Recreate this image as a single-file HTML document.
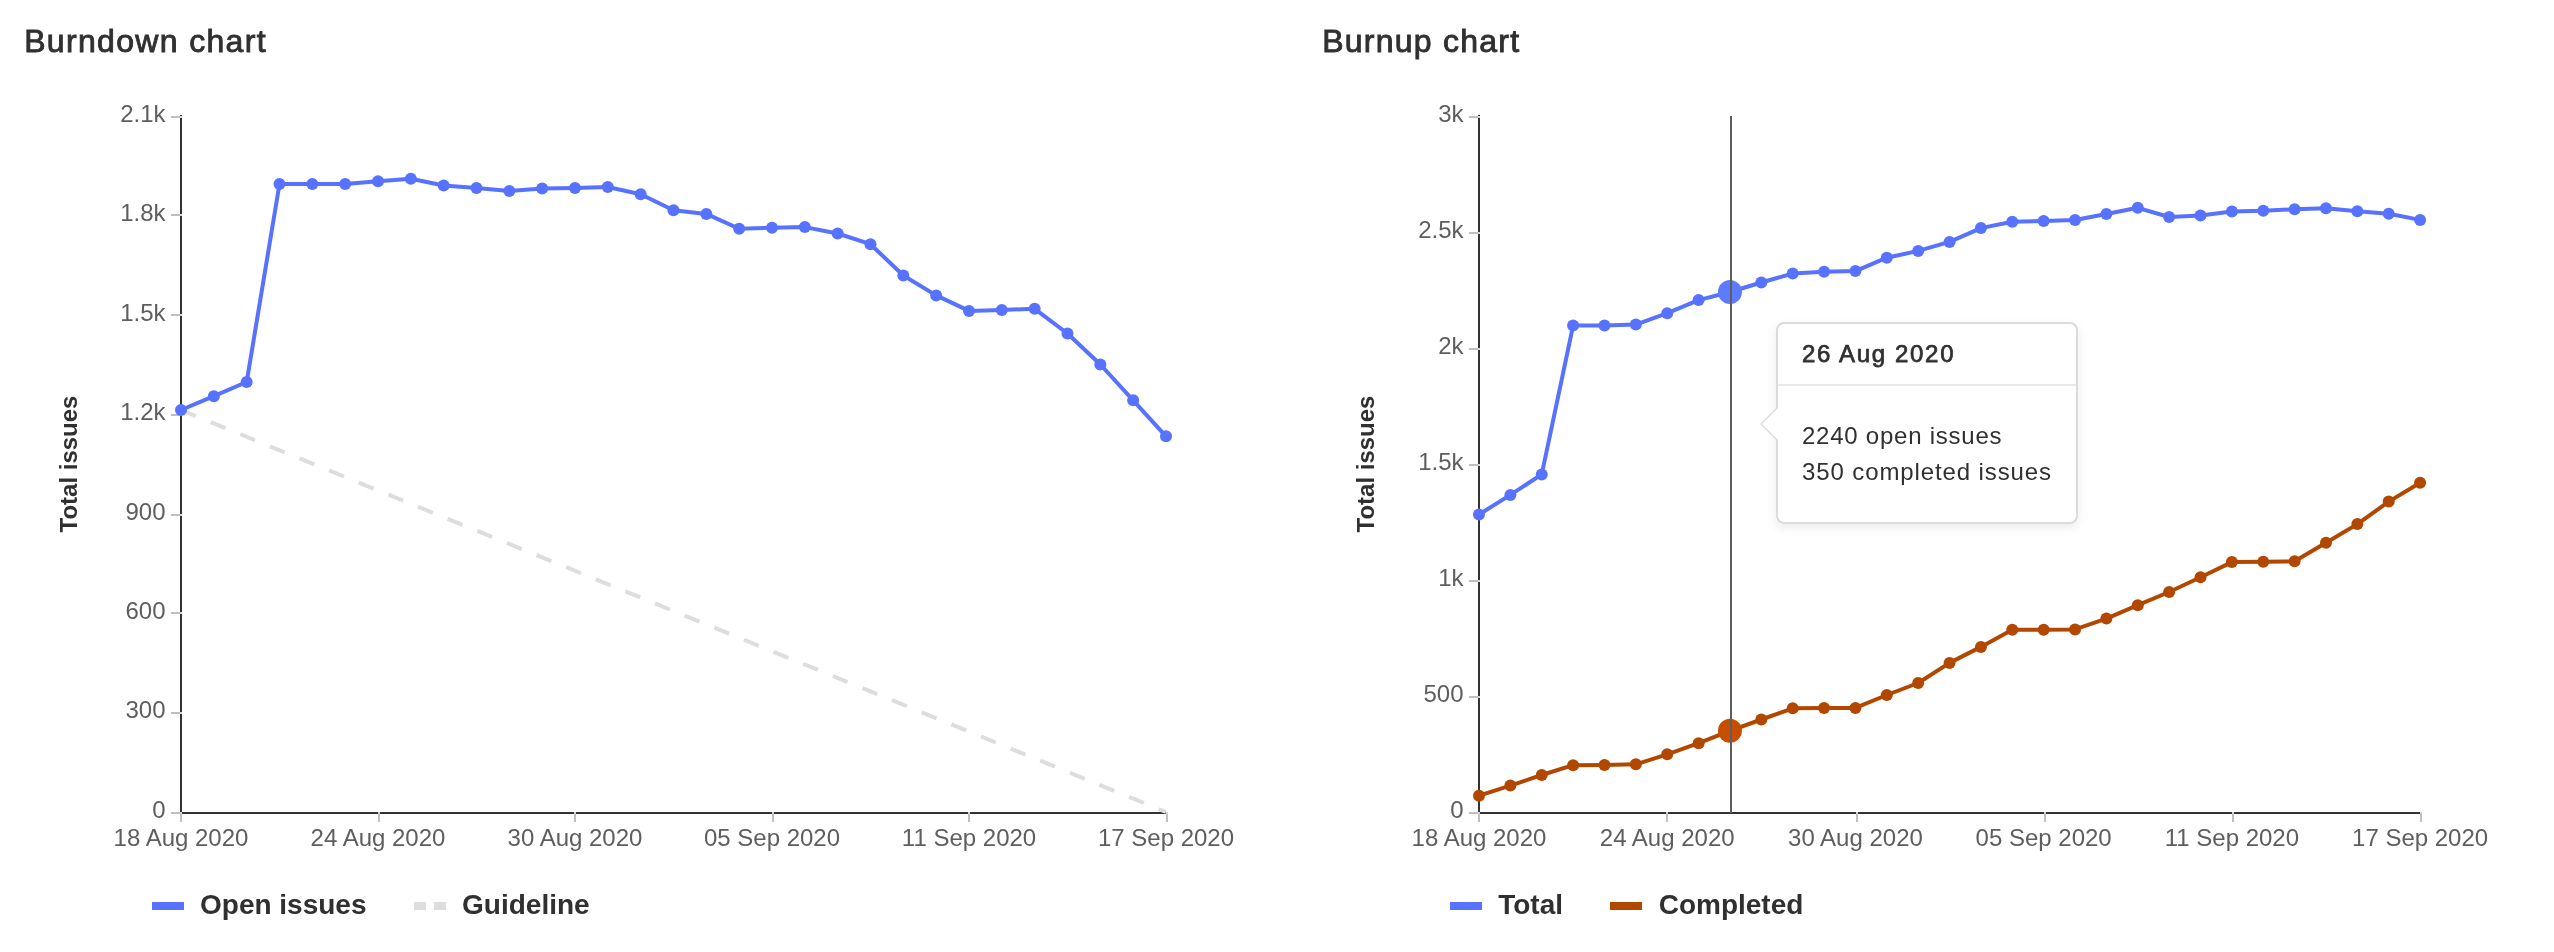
<!DOCTYPE html>
<html><head><meta charset="utf-8"><title>Burndown and Burnup charts</title>
<style>
html,body{margin:0;padding:0;background:#fff;}
body{width:2554px;height:952px;overflow:hidden;}
svg{display:block;}
text{font-family:'Liberation Sans', Arial, Helvetica, sans-serif;}
svg{will-change:transform;}
</style></head><body>

<svg width="2554" height="952" viewBox="0 0 2554 952" preserveAspectRatio="xMinYMin meet">
<defs><filter id="sh" x="-10%" y="-10%" width="130%" height="130%"><feDropShadow dx="0" dy="4" stdDeviation="5" flood-color="#000" flood-opacity="0.08"/></filter></defs>
<rect width="2554" height="952" fill="#fff"/>
<text x="24.2" y="52.05" font-size="32" font-weight="400" fill="#303030" stroke="#303030" stroke-width="0.9" textLength="241.4" lengthAdjust="spacing">Burndown chart</text>
<text transform="translate(76.5,464) rotate(-90)" text-anchor="middle" font-size="24" font-weight="700" fill="#303030">Total issues</text>
<rect x="180" y="115" width="2" height="699" fill="#333333"/>
<rect x="180" y="812" width="986" height="2" fill="#333333"/>
<rect x="171" y="116" width="9" height="2" fill="#bfbfbf"/>
<rect x="180" y="116" width="2" height="2" fill="#d6d6d6"/>
<text x="165.5" y="121.9" text-anchor="end" font-size="24" fill="#5e5e5e">2.1k</text>
<rect x="171" y="214" width="9" height="2" fill="#bfbfbf"/>
<rect x="180" y="214" width="2" height="2" fill="#d6d6d6"/>
<text x="165.5" y="221.33" text-anchor="end" font-size="24" fill="#5e5e5e">1.8k</text>
<rect x="171" y="314" width="9" height="2" fill="#bfbfbf"/>
<rect x="180" y="314" width="2" height="2" fill="#d6d6d6"/>
<text x="165.5" y="320.76" text-anchor="end" font-size="24" fill="#5e5e5e">1.5k</text>
<rect x="171" y="414" width="9" height="2" fill="#bfbfbf"/>
<rect x="180" y="414" width="2" height="2" fill="#d6d6d6"/>
<text x="165.5" y="420.19" text-anchor="end" font-size="24" fill="#5e5e5e">1.2k</text>
<rect x="171" y="514" width="9" height="2" fill="#bfbfbf"/>
<rect x="180" y="514" width="2" height="2" fill="#d6d6d6"/>
<text x="165.5" y="519.61" text-anchor="end" font-size="24" fill="#5e5e5e">900</text>
<rect x="171" y="612" width="9" height="2" fill="#bfbfbf"/>
<rect x="180" y="612" width="2" height="2" fill="#d6d6d6"/>
<text x="165.5" y="619.04" text-anchor="end" font-size="24" fill="#5e5e5e">600</text>
<rect x="171" y="712" width="9" height="2" fill="#bfbfbf"/>
<rect x="180" y="712" width="2" height="2" fill="#d6d6d6"/>
<text x="165.5" y="718.47" text-anchor="end" font-size="24" fill="#5e5e5e">300</text>
<rect x="171" y="812" width="9" height="2" fill="#bfbfbf"/>
<rect x="180" y="812" width="2" height="2" fill="#d6d6d6"/>
<text x="165.5" y="817.9" text-anchor="end" font-size="24" fill="#5e5e5e">0</text>
<rect x="180" y="814" width="2" height="8" fill="#bfbfbf"/>
<rect x="180" y="812" width="2" height="2" fill="#d6d6d6"/>
<text x="181" y="846" text-anchor="middle" font-size="24" fill="#5e5e5e">18 Aug 2020</text>
<rect x="378" y="814" width="2" height="8" fill="#bfbfbf"/>
<rect x="378" y="812" width="2" height="2" fill="#d6d6d6"/>
<text x="378" y="846" text-anchor="middle" font-size="24" fill="#5e5e5e">24 Aug 2020</text>
<rect x="574" y="814" width="2" height="8" fill="#bfbfbf"/>
<rect x="574" y="812" width="2" height="2" fill="#d6d6d6"/>
<text x="575" y="846" text-anchor="middle" font-size="24" fill="#5e5e5e">30 Aug 2020</text>
<rect x="772" y="814" width="2" height="8" fill="#bfbfbf"/>
<rect x="772" y="812" width="2" height="2" fill="#d6d6d6"/>
<text x="772" y="846" text-anchor="middle" font-size="24" fill="#5e5e5e">05 Sep 2020</text>
<rect x="968" y="814" width="2" height="8" fill="#bfbfbf"/>
<rect x="968" y="812" width="2" height="2" fill="#d6d6d6"/>
<text x="969" y="846" text-anchor="middle" font-size="24" fill="#5e5e5e">11 Sep 2020</text>
<rect x="1166" y="814" width="2" height="8" fill="#bfbfbf"/>
<rect x="1166" y="812" width="2" height="2" fill="#d6d6d6"/>
<text x="1166" y="846" text-anchor="middle" font-size="24" fill="#5e5e5e">17 Sep 2020</text>
<line x1="181" y1="410" x2="1166" y2="812" stroke="#dddddd" stroke-width="4" stroke-dasharray="16 16"/>
<polyline points="181,410 213.83,396.2 246.67,382 279.5,184 312.33,184.1 345.17,184 378,181.3 410.83,178.7 443.67,185.5 476.5,188 509.33,190.9 542.17,188.4 575,188 607.83,187 640.67,194.3 673.5,210.3 706.33,213.9 739.17,228.8 772,227.8 804.83,227.1 837.67,233.5 870.5,244.2 903.33,275.5 936.17,295.4 969,310.9 1001.83,309.9 1034.67,308.8 1067.5,333.5 1100.33,364.5 1133.17,400.3 1166,436.3" fill="none" stroke="#5772ff" stroke-width="4" stroke-linejoin="round"/>
<circle cx="181" cy="410" r="6" fill="#5772ff"/>
<circle cx="213.83" cy="396.2" r="6" fill="#5772ff"/>
<circle cx="246.67" cy="382" r="6" fill="#5772ff"/>
<circle cx="279.5" cy="184" r="6" fill="#5772ff"/>
<circle cx="312.33" cy="184.1" r="6" fill="#5772ff"/>
<circle cx="345.17" cy="184" r="6" fill="#5772ff"/>
<circle cx="378" cy="181.3" r="6" fill="#5772ff"/>
<circle cx="410.83" cy="178.7" r="6" fill="#5772ff"/>
<circle cx="443.67" cy="185.5" r="6" fill="#5772ff"/>
<circle cx="476.5" cy="188" r="6" fill="#5772ff"/>
<circle cx="509.33" cy="190.9" r="6" fill="#5772ff"/>
<circle cx="542.17" cy="188.4" r="6" fill="#5772ff"/>
<circle cx="575" cy="188" r="6" fill="#5772ff"/>
<circle cx="607.83" cy="187" r="6" fill="#5772ff"/>
<circle cx="640.67" cy="194.3" r="6" fill="#5772ff"/>
<circle cx="673.5" cy="210.3" r="6" fill="#5772ff"/>
<circle cx="706.33" cy="213.9" r="6" fill="#5772ff"/>
<circle cx="739.17" cy="228.8" r="6" fill="#5772ff"/>
<circle cx="772" cy="227.8" r="6" fill="#5772ff"/>
<circle cx="804.83" cy="227.1" r="6" fill="#5772ff"/>
<circle cx="837.67" cy="233.5" r="6" fill="#5772ff"/>
<circle cx="870.5" cy="244.2" r="6" fill="#5772ff"/>
<circle cx="903.33" cy="275.5" r="6" fill="#5772ff"/>
<circle cx="936.17" cy="295.4" r="6" fill="#5772ff"/>
<circle cx="969" cy="310.9" r="6" fill="#5772ff"/>
<circle cx="1001.83" cy="309.9" r="6" fill="#5772ff"/>
<circle cx="1034.67" cy="308.8" r="6" fill="#5772ff"/>
<circle cx="1067.5" cy="333.5" r="6" fill="#5772ff"/>
<circle cx="1100.33" cy="364.5" r="6" fill="#5772ff"/>
<circle cx="1133.17" cy="400.3" r="6" fill="#5772ff"/>
<circle cx="1166" cy="436.3" r="6" fill="#5772ff"/>
<text x="1322.2" y="52.05" font-size="32" font-weight="400" fill="#303030" stroke="#303030" stroke-width="0.9" textLength="196.9" lengthAdjust="spacing">Burnup chart</text>
<text transform="translate(1374,464) rotate(-90)" text-anchor="middle" font-size="24" font-weight="700" fill="#303030">Total issues</text>
<rect x="1478" y="115" width="2" height="699" fill="#333333"/>
<rect x="1478" y="812" width="942" height="2" fill="#333333"/>
<rect x="1469" y="116" width="9" height="2" fill="#bfbfbf"/>
<rect x="1478" y="116" width="2" height="2" fill="#d6d6d6"/>
<text x="1463.5" y="121.9" text-anchor="end" font-size="24" fill="#5e5e5e">3k</text>
<rect x="1469" y="232" width="9" height="2" fill="#bfbfbf"/>
<rect x="1478" y="232" width="2" height="2" fill="#d6d6d6"/>
<text x="1463.5" y="237.9" text-anchor="end" font-size="24" fill="#5e5e5e">2.5k</text>
<rect x="1469" y="348" width="9" height="2" fill="#bfbfbf"/>
<rect x="1478" y="348" width="2" height="2" fill="#d6d6d6"/>
<text x="1463.5" y="353.9" text-anchor="end" font-size="24" fill="#5e5e5e">2k</text>
<rect x="1469" y="464" width="9" height="2" fill="#bfbfbf"/>
<rect x="1478" y="464" width="2" height="2" fill="#d6d6d6"/>
<text x="1463.5" y="469.9" text-anchor="end" font-size="24" fill="#5e5e5e">1.5k</text>
<rect x="1469" y="580" width="9" height="2" fill="#bfbfbf"/>
<rect x="1478" y="580" width="2" height="2" fill="#d6d6d6"/>
<text x="1463.5" y="585.9" text-anchor="end" font-size="24" fill="#5e5e5e">1k</text>
<rect x="1469" y="696" width="9" height="2" fill="#bfbfbf"/>
<rect x="1478" y="696" width="2" height="2" fill="#d6d6d6"/>
<text x="1463.5" y="701.9" text-anchor="end" font-size="24" fill="#5e5e5e">500</text>
<rect x="1469" y="812" width="9" height="2" fill="#bfbfbf"/>
<rect x="1478" y="812" width="2" height="2" fill="#d6d6d6"/>
<text x="1463.5" y="817.9" text-anchor="end" font-size="24" fill="#5e5e5e">0</text>
<rect x="1478" y="814" width="2" height="8" fill="#bfbfbf"/>
<rect x="1478" y="812" width="2" height="2" fill="#d6d6d6"/>
<text x="1479" y="846" text-anchor="middle" font-size="24" fill="#5e5e5e">18 Aug 2020</text>
<rect x="1666" y="814" width="2" height="8" fill="#bfbfbf"/>
<rect x="1666" y="812" width="2" height="2" fill="#d6d6d6"/>
<text x="1667.22" y="846" text-anchor="middle" font-size="24" fill="#5e5e5e">24 Aug 2020</text>
<rect x="1856" y="814" width="2" height="8" fill="#bfbfbf"/>
<rect x="1856" y="812" width="2" height="2" fill="#d6d6d6"/>
<text x="1855.44" y="846" text-anchor="middle" font-size="24" fill="#5e5e5e">30 Aug 2020</text>
<rect x="2044" y="814" width="2" height="8" fill="#bfbfbf"/>
<rect x="2044" y="812" width="2" height="2" fill="#d6d6d6"/>
<text x="2043.66" y="846" text-anchor="middle" font-size="24" fill="#5e5e5e">05 Sep 2020</text>
<rect x="2232" y="814" width="2" height="8" fill="#bfbfbf"/>
<rect x="2232" y="812" width="2" height="2" fill="#d6d6d6"/>
<text x="2231.88" y="846" text-anchor="middle" font-size="24" fill="#5e5e5e">11 Sep 2020</text>
<rect x="2420" y="814" width="2" height="8" fill="#bfbfbf"/>
<rect x="2420" y="812" width="2" height="2" fill="#d6d6d6"/>
<text x="2420.1" y="846" text-anchor="middle" font-size="24" fill="#5e5e5e">17 Sep 2020</text>
<polyline points="1479,514.5 1510.37,494.9 1541.74,474.4 1573.11,325.5 1604.48,325.5 1635.85,324.6 1667.22,313.2 1698.59,300.1 1729.96,292 1761.33,282.5 1792.7,273.5 1824.07,271.8 1855.44,271.1 1886.81,257.7 1918.18,250.9 1949.55,241.9 1980.92,228.1 2012.29,221.7 2043.66,221 2075.03,220 2106.4,214 2137.77,207.8 2169.14,217 2200.51,215.6 2231.88,211.5 2263.25,210.8 2294.62,209.2 2325.99,208.2 2357.36,211.2 2388.73,213.7 2420.1,219.9" fill="none" stroke="#5772ff" stroke-width="4" stroke-linejoin="round"/>
<circle cx="1479" cy="514.5" r="6" fill="#5772ff"/>
<circle cx="1510.37" cy="494.9" r="6" fill="#5772ff"/>
<circle cx="1541.74" cy="474.4" r="6" fill="#5772ff"/>
<circle cx="1573.11" cy="325.5" r="6" fill="#5772ff"/>
<circle cx="1604.48" cy="325.5" r="6" fill="#5772ff"/>
<circle cx="1635.85" cy="324.6" r="6" fill="#5772ff"/>
<circle cx="1667.22" cy="313.2" r="6" fill="#5772ff"/>
<circle cx="1698.59" cy="300.1" r="6" fill="#5772ff"/>
<circle cx="1761.33" cy="282.5" r="6" fill="#5772ff"/>
<circle cx="1792.7" cy="273.5" r="6" fill="#5772ff"/>
<circle cx="1824.07" cy="271.8" r="6" fill="#5772ff"/>
<circle cx="1855.44" cy="271.1" r="6" fill="#5772ff"/>
<circle cx="1886.81" cy="257.7" r="6" fill="#5772ff"/>
<circle cx="1918.18" cy="250.9" r="6" fill="#5772ff"/>
<circle cx="1949.55" cy="241.9" r="6" fill="#5772ff"/>
<circle cx="1980.92" cy="228.1" r="6" fill="#5772ff"/>
<circle cx="2012.29" cy="221.7" r="6" fill="#5772ff"/>
<circle cx="2043.66" cy="221" r="6" fill="#5772ff"/>
<circle cx="2075.03" cy="220" r="6" fill="#5772ff"/>
<circle cx="2106.4" cy="214" r="6" fill="#5772ff"/>
<circle cx="2137.77" cy="207.8" r="6" fill="#5772ff"/>
<circle cx="2169.14" cy="217" r="6" fill="#5772ff"/>
<circle cx="2200.51" cy="215.6" r="6" fill="#5772ff"/>
<circle cx="2231.88" cy="211.5" r="6" fill="#5772ff"/>
<circle cx="2263.25" cy="210.8" r="6" fill="#5772ff"/>
<circle cx="2294.62" cy="209.2" r="6" fill="#5772ff"/>
<circle cx="2325.99" cy="208.2" r="6" fill="#5772ff"/>
<circle cx="2357.36" cy="211.2" r="6" fill="#5772ff"/>
<circle cx="2388.73" cy="213.7" r="6" fill="#5772ff"/>
<circle cx="2420.1" cy="219.9" r="6" fill="#5772ff"/>
<polyline points="1479,795.7 1510.37,785.6 1541.74,775 1573.11,765.2 1604.48,764.9 1635.85,764.3 1667.22,754.3 1698.59,743.2 1729.96,730.8 1761.33,719.5 1792.7,708.3 1824.07,707.9 1855.44,707.9 1886.81,695 1918.18,683 1949.55,662.9 1980.92,646.9 2012.29,629.8 2043.66,629.8 2075.03,629.4 2106.4,618.6 2137.77,605.2 2169.14,592 2200.51,577.2 2231.88,562.1 2263.25,561.7 2294.62,561.3 2325.99,542.8 2357.36,524.1 2388.73,501.6 2420.1,482.7" fill="none" stroke="#b24800" stroke-width="4" stroke-linejoin="round"/>
<circle cx="1479" cy="795.7" r="6" fill="#b24800"/>
<circle cx="1510.37" cy="785.6" r="6" fill="#b24800"/>
<circle cx="1541.74" cy="775" r="6" fill="#b24800"/>
<circle cx="1573.11" cy="765.2" r="6" fill="#b24800"/>
<circle cx="1604.48" cy="764.9" r="6" fill="#b24800"/>
<circle cx="1635.85" cy="764.3" r="6" fill="#b24800"/>
<circle cx="1667.22" cy="754.3" r="6" fill="#b24800"/>
<circle cx="1698.59" cy="743.2" r="6" fill="#b24800"/>
<circle cx="1761.33" cy="719.5" r="6" fill="#b24800"/>
<circle cx="1792.7" cy="708.3" r="6" fill="#b24800"/>
<circle cx="1824.07" cy="707.9" r="6" fill="#b24800"/>
<circle cx="1855.44" cy="707.9" r="6" fill="#b24800"/>
<circle cx="1886.81" cy="695" r="6" fill="#b24800"/>
<circle cx="1918.18" cy="683" r="6" fill="#b24800"/>
<circle cx="1949.55" cy="662.9" r="6" fill="#b24800"/>
<circle cx="1980.92" cy="646.9" r="6" fill="#b24800"/>
<circle cx="2012.29" cy="629.8" r="6" fill="#b24800"/>
<circle cx="2043.66" cy="629.8" r="6" fill="#b24800"/>
<circle cx="2075.03" cy="629.4" r="6" fill="#b24800"/>
<circle cx="2106.4" cy="618.6" r="6" fill="#b24800"/>
<circle cx="2137.77" cy="605.2" r="6" fill="#b24800"/>
<circle cx="2169.14" cy="592" r="6" fill="#b24800"/>
<circle cx="2200.51" cy="577.2" r="6" fill="#b24800"/>
<circle cx="2231.88" cy="562.1" r="6" fill="#b24800"/>
<circle cx="2263.25" cy="561.7" r="6" fill="#b24800"/>
<circle cx="2294.62" cy="561.3" r="6" fill="#b24800"/>
<circle cx="2325.99" cy="542.8" r="6" fill="#b24800"/>
<circle cx="2357.36" cy="524.1" r="6" fill="#b24800"/>
<circle cx="2388.73" cy="501.6" r="6" fill="#b24800"/>
<circle cx="2420.1" cy="482.7" r="6" fill="#b24800"/>
<circle cx="1729.96" cy="292" r="12" fill="#5c7bff"/>
<circle cx="1729.96" cy="730.8" r="12" fill="#c54e00"/>
<rect x="1730" y="116" width="2" height="697" fill="#5e5e5e"/>
<rect x="152" y="902" width="32" height="8" fill="#5772ff"/>
<text x="200" y="914.2" font-size="28" font-weight="700" fill="#303030">Open issues</text>
<rect x="414" y="902" width="12" height="8" fill="#dddddd"/>
<rect x="434" y="902" width="12" height="8" fill="#dddddd"/>
<text x="462.1" y="914.2" font-size="28" font-weight="700" fill="#303030">Guideline</text>
<rect x="1450" y="902" width="32" height="8" fill="#5772ff"/>
<text x="1498.2" y="914.2" font-size="28" font-weight="700" fill="#303030">Total</text>
<rect x="1610" y="902" width="32" height="8" fill="#b24800"/>
<text x="1658.7" y="914.2" font-size="28" font-weight="700" fill="#303030">Completed</text>
<rect x="1776" y="322" width="302" height="202" rx="8" fill="#fff" filter="url(#sh)"/>
<rect x="1777" y="323" width="300" height="200" rx="7" fill="#fff" stroke="#dbdbdb" stroke-width="2"/>
<polygon points="1776,408 1760,424 1776,440" fill="#dbdbdb"/>
<polygon points="1778,408 1762,424 1778,440" fill="#fff"/>
<rect x="1778" y="384" width="298" height="2" fill="#e9e9e9"/>
<text x="1802" y="361.6" font-size="24" font-weight="400" fill="#303030" stroke="#303030" stroke-width="0.75" textLength="151.5" lengthAdjust="spacing">26 Aug 2020</text>
<text x="1802" y="444.1" font-size="24" fill="#303030" textLength="199.5" lengthAdjust="spacing">2240 open issues</text>
<text x="1802" y="480.2" font-size="24" fill="#303030" textLength="249" lengthAdjust="spacing">350 completed issues</text>
</svg>
</body></html>
